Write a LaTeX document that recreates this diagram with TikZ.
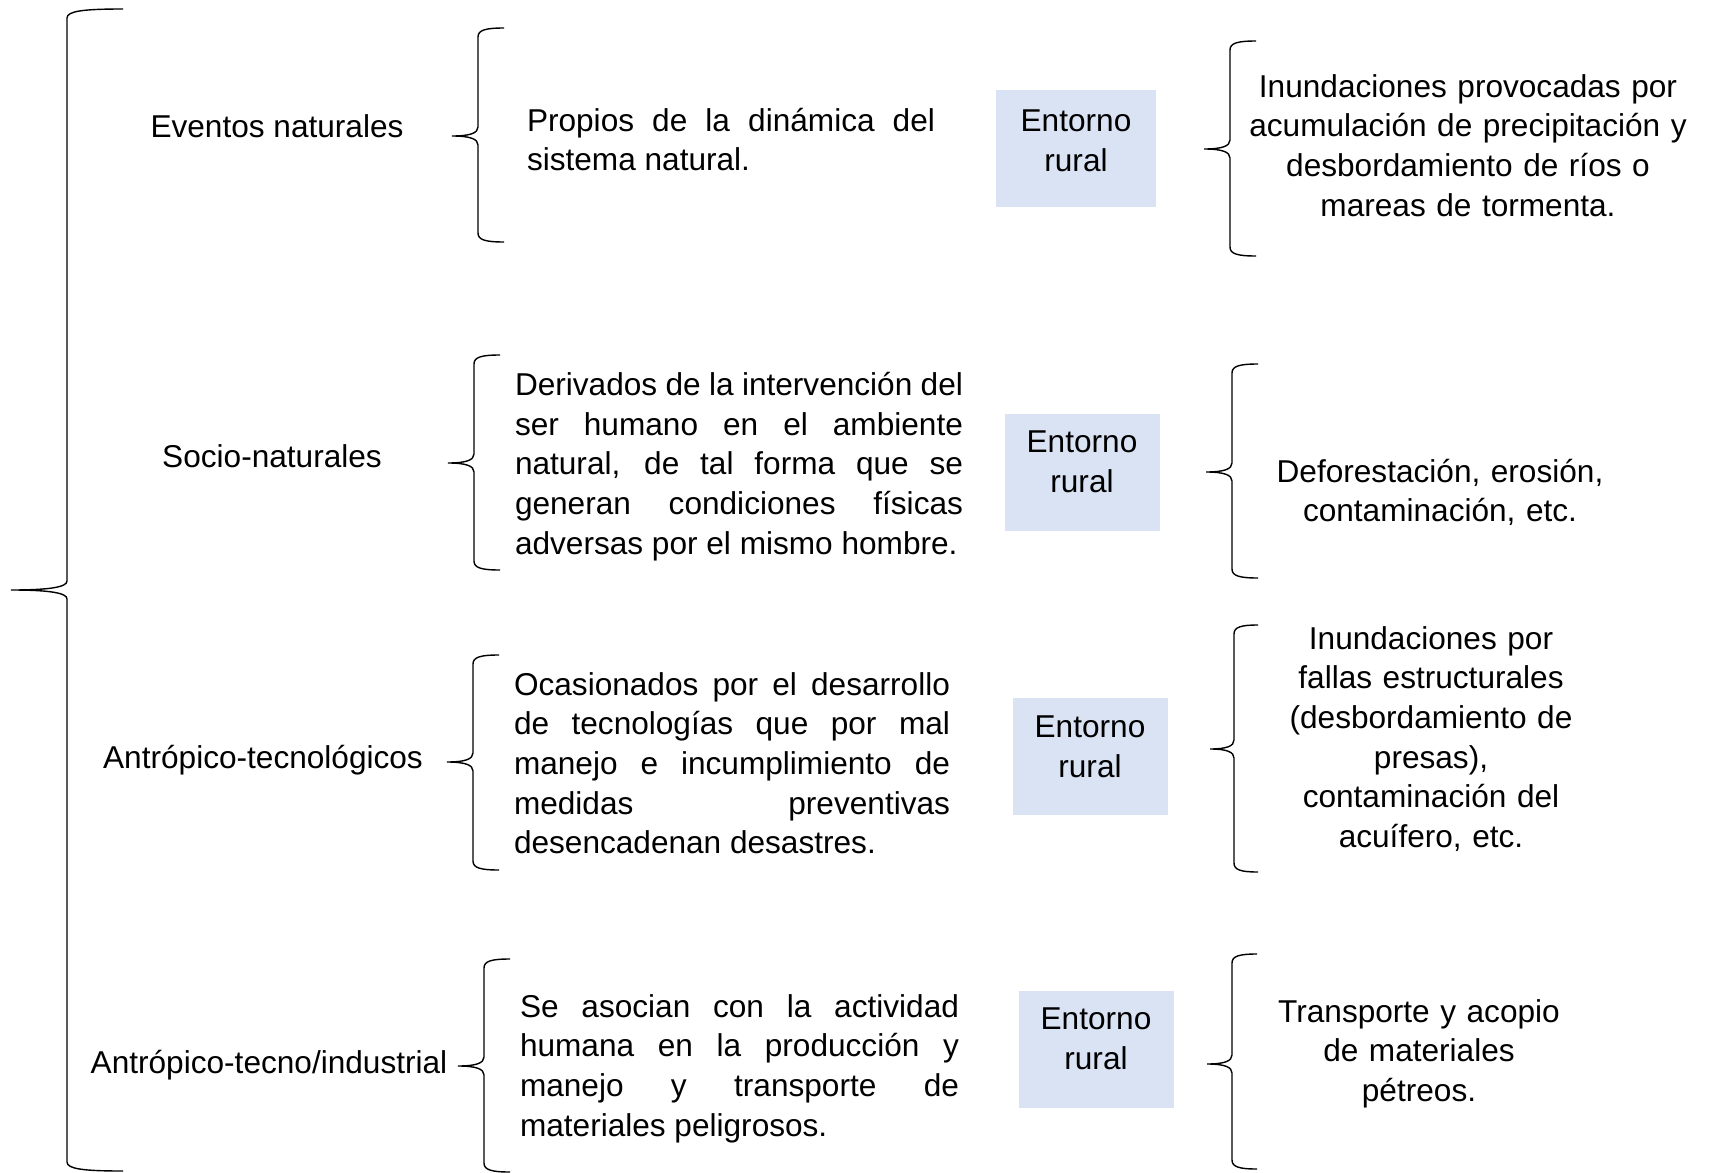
\documentclass[tikz,border=0pt]{standalone}
\usepackage{fontspec}
\setmainfont{Liberation Sans}
\hyphenpenalty=10000
\exhyphenpenalty=10000
\tolerance=9999
\definecolor{boxblue}{RGB}{218,227,243}
\newcommand{\mybrace}[6]{% name, xv, top, bottom, tip y, arm
  \coordinate (#1top) at ({#2+#6},#3);
  \coordinate (#1tip) at ({#2-#6},#5);
  \coordinate (#1bot) at ({#2+#6},#4);
  \draw[bracestyle] (#1top) .. controls ({#2+0.3*#6},#3) and (#2,{#3+2}) .. (#2,{#3+9})
    -- (#2,{#5-9}) .. controls (#2,{#5-3}) and ({#2-0.3*#6},#5) .. (#1tip)
    .. controls ({#2-0.3*#6},#5) and (#2,{#5+3}) .. (#2,{#5+9})
    -- (#2,{#4-9}) .. controls (#2,{#4-2}) and ({#2+0.3*#6},#4) .. (#1bot);
}
\begin{document}
\begin{tikzpicture}[x=0.5pt,y=-0.5pt,
  every node/.style={font=\fontsize{15.8}{19.85}\selectfont, inner sep=0pt, outer sep=0pt},
  bracestyle/.style={draw=black, line width=0.7pt},
  label/.style={anchor=base},
  desc/.style={anchor=base west, align=justify},
  rtext/.style={anchor=base, align=center, text width=250pt},
  envbox/.style={fill=boxblue, minimum width=77.5pt, minimum height=58.5pt},
  envtext/.style={align=center}]
\useasboundingbox (0,0) rectangle (1710,1173);

% big brace
\mybrace{big}{67}{9}{1171}{590}{56}

% left labels
\node[label] (l1) at (277,137) {Eventos naturales};
\node[label] (l2) at (272,467) {Socio-naturales};
\node[label] (l3) at (263,768) {Antrópico-tecnológicos};
\node[label] (l4) at (269,1073) {Antrópico-tecno/industrial};

% middle braces
\mybrace{b1}{478}{28}{242}{136}{26}
\mybrace{b2}{474}{355}{570}{463}{26}
\mybrace{b3}{473}{655}{870}{762}{26}
\mybrace{b4}{484}{959}{1172}{1066}{26}

% descriptions
\node[desc, text width=204pt] (t1) at (527,131) {Propios de la dinámica del\linebreak sistema natural.};
\node[desc, text width=224pt] (t2) at (515,395.5) {Derivados de la intervención del\linebreak ser humano en el ambiente\linebreak natural, de tal forma que se\linebreak generan condiciones físicas\linebreak adversas por el mismo hombre.};
\node[desc, text width=218pt] (t3) at (514,695) {Ocasionados por el desarrollo\linebreak de tecnologías que por mal\linebreak manejo e incumplimiento de\linebreak medidas preventivas\linebreak desencadenan desastres.};
\node[desc, text width=219.5pt] (t4) at (520,1017) {Se asocian con la actividad\linebreak humana en la producción y\linebreak manejo y transporte de\linebreak materiales peligrosos.};

% entorno boxes
\node[envbox, minimum width=80pt] (e1) at (1076,148.5) {};
\node[envbox] (e2) at (1082,472) {};
\node[envbox] (e3) at (1090,756.5) {};
\node[envbox] (e4) at (1096,1049) {};
\node[envtext] (e1t) at ([yshift=4pt]e1.center) {Entorno\\rural};
\node[envtext] (e2t) at ([yshift=5pt]e2.center) {Entorno\\rural};
\node[envtext] (e3t) at ([yshift=5pt]e3.center) {Entorno\\rural};
\node[envtext] (e4t) at ([yshift=5pt]e4.center) {Entorno\\rural};

% right braces
\mybrace{r1}{1230}{41}{256}{149}{26}
\mybrace{r2}{1232}{364}{578}{472}{26}
\mybrace{r3}{1234}{625}{872}{749}{24}
\mybrace{r4}{1232}{954}{1169}{1064}{25}

% right texts
\node[rtext] (r1t) at (1468,97) {Inundaciones provocadas por\\acumulación de precipitación y\\desbordamiento de ríos o\\mareas de tormenta.};
\node[rtext] (r2t) at (1440,482) {Deforestación, erosión,\\contaminación, etc.};
\node[rtext] (r3t) at (1431,649) {Inundaciones por\\fallas estructurales\\(desbordamiento de\\presas),\\contaminación del\\acuífero, etc.};
\node[rtext] (r4t) at (1419,1022) {Transporte y acopio\\de materiales\\pétreos.};
\end{tikzpicture}
\end{document}
